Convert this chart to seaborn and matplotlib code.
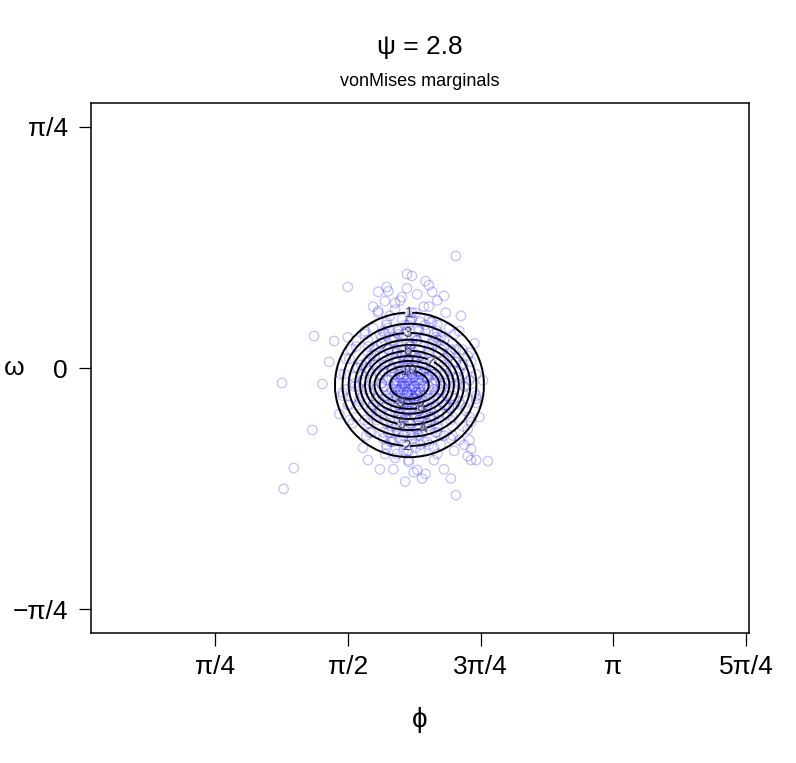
import numpy as np
import matplotlib
import matplotlib.pyplot as plt
import seaborn as sns

# Use 'Agg' backend for headless image generation
matplotlib.use('Agg')

PSI = 2.8

# contour levels and the half-widths / half-heights (radians) of each level
levels = [1, 2, 3, 4, 5, 6, 7, 8, 9, 10]
half_width = [0.440, 0.396, 0.360, 0.322, 0.292, 0.263, 0.236, 0.207, 0.177, 0.115]
half_height = [0.235, 0.199, 0.169, 0.147, 0.130, 0.111, 0.094, 0.078, 0.062, 0.046]
center_phi = 1.935
center_omega = -0.055

# sample points (phi, omega): scattered ones read one by one
phi_outer = [
    2.21, 1.92, 2.03, 1.57, 1.80, 1.75, 2.07, 2.14, 1.89, 1.79,
    1.85, 1.75, 1.37, 1.49, 1.46, 1.18, 1.42, 1.36, 1.25, 1.19,
    2.21, 1.98, 2.03, 2.40, 2.33, 2.28, 2.30, 2.29, 2.23, 2.33,
    2.30, 1.93, 1.85,
]
omega_outer = [
    0.365, 0.306, 0.283, 0.264, 0.264, 0.248, 0.248, 0.235, 0.231, 0.218,
    0.212, 0.186, 0.104, 0.088, 0.020, -0.049, -0.052, -0.202, -0.326, -0.394,
    -0.414, -0.332, -0.345, -0.303, -0.300, -0.287, -0.264, -0.235, -0.235, -0.114,
    -0.176, -0.306, -0.293,
]

# dense cloud under the contours (estimated)
phi_core = [
    1.93, 1.88, 1.97, 2.01, 1.85, 1.92, 1.99, 1.90, 2.05, 1.83,
    1.95, 1.87, 2.03, 1.79, 2.08, 1.94, 1.91, 2.00, 1.86, 1.96,
    2.10, 1.81, 1.89, 2.04, 1.98, 1.76, 2.12, 1.92, 1.84, 2.06,
    1.93, 1.99, 1.78, 2.15, 1.88, 2.02, 1.82, 1.95, 2.09, 1.90,
    1.97, 1.86, 2.01, 1.80, 2.07, 1.94, 1.89, 2.13, 1.75, 2.00,
    1.70, 1.72, 1.68, 2.18, 2.20, 2.22, 1.73, 2.17, 1.92, 1.85,
    2.02, 1.96, 1.87, 2.06, 1.80, 2.11, 1.77, 2.14, 1.66, 2.25,
    1.99, 1.83, 2.04, 1.90, 1.74, 2.16, 1.81, 2.08, 1.64, 2.27,
    1.94, 1.89, 2.00, 1.71, 2.19, 1.78, 2.10, 1.63, 2.24, 1.97,
    1.86, 2.12, 1.69, 2.21, 1.82, 2.05, 1.93, 2.29, 1.61, 2.02,
    1.58, 1.56, 2.30, 2.33, 1.60, 2.28, 1.67, 2.23, 1.75, 2.15,
    1.88, 1.98, 1.79, 2.08, 1.96, 1.84, 1.66, 2.20, 2.35, 1.54,
    1.92, 2.10, 1.72, 2.26, 1.62, 2.32, 2.01, 1.91, 1.76, 2.14,
    2.37, 1.52, 1.69, 2.24, 1.81, 2.05, 2.18, 2.30, 1.57, 1.95,
    1.91, 1.96, 2.03, 1.87, 1.93, 1.99, 1.84, 2.05, 1.90, 1.98,
    1.94, 1.88, 2.02, 1.92, 1.97, 1.86, 2.07, 1.95, 1.89, 2.00,
    2.11, 1.82, 1.93, 1.99, 1.78, 2.14, 1.85, 2.06, 1.96, 1.91,
    1.92, 1.95, 1.89, 2.00, 1.86, 1.97, 2.04, 1.83, 1.91, 1.99,
    1.94, 1.87, 2.02, 1.80, 2.09, 1.93, 1.96, 1.88, 2.06, 1.85,
    1.98, 1.90, 2.01, 1.84, 2.11, 1.95, 1.77, 2.13, 1.92, 2.03,
    1.89, 1.97, 1.82, 2.08, 1.94, 1.86, 2.05, 1.79, 2.16, 1.91,
    1.99, 1.74, 2.19, 1.87, 2.07, 1.81, 1.95, 2.12, 1.76, 2.01,
    1.90, 1.84, 2.10, 1.72, 2.17, 1.98, 1.93, 1.96, 1.88, 2.00,
    1.85, 2.04, 1.91, 1.97, 1.83, 2.08, 1.94, 1.89, 2.02, 1.80,
    2.14, 1.92, 1.99, 1.78, 2.15, 1.86, 2.06, 1.73, 2.20, 1.95,
    1.90, 2.03, 1.81, 2.12, 1.75, 2.18, 1.97, 1.87, 2.09, 1.70,
    2.23, 1.84, 2.05, 1.93, 1.68, 2.26, 1.79, 2.14, 1.92, 2.00,
    1.72, 1.80, 1.87, 1.95, 2.03, 2.10, 2.17, 1.76, 1.91, 2.06,
    1.62, 1.69, 1.77, 1.84, 1.90, 1.98, 2.05, 2.12, 2.19, 2.25,
    1.73, 1.94, 2.08, 1.58, 1.65, 1.71, 1.79, 1.86, 1.93, 2.00,
    2.07, 2.14, 2.21, 2.28, 1.83, 1.97, 2.11, 1.55, 1.61, 1.68,
    1.74, 1.81, 1.88, 1.95, 2.02, 2.09, 2.16, 2.23, 2.30, 1.85,
    1.99, 2.05, 1.56, 1.63, 1.70, 1.77, 1.84, 1.91, 1.98, 2.05,
    2.12, 2.19, 2.26, 2.32, 1.88, 1.95, 2.02, 1.57, 1.64, 1.71,
    1.78, 1.85, 1.92, 1.99, 2.06, 2.13, 2.20, 2.27, 1.89, 1.96,
    2.03, 1.62, 1.69, 1.76, 1.83, 1.90, 1.97, 2.04, 2.11, 2.18,
    2.25, 1.87, 2.00, 1.70, 1.78, 1.86, 1.94, 2.02, 2.10, 2.18,
    1.82, 1.98, 2.14, 1.80, 1.90, 2.00, 2.10, 1.85, 1.95, 2.05,
    1.90, 1.93, 1.96, 1.99, 1.87, 1.92, 1.95, 1.98, 2.01, 1.89,
    1.94, 1.97, 1.91, 2.00, 1.86,
    2.26, 2.25, 2.18, 2.11, 1.99, 1.87, 1.77, 1.69, 1.62, 1.61,
    1.63, 1.67, 1.78, 1.88, 1.99, 2.09, 2.19, 2.24, 2.33, 2.29,
    2.20, 2.07, 1.94, 1.80, 1.67, 1.59, 1.53, 1.54, 1.58, 1.68,
    1.80, 1.93, 2.08, 2.19, 2.29, 2.33, 2.18, 2.14, 2.05, 1.94,
    1.81, 1.73, 1.69, 1.72, 1.82, 1.94, 2.06, 2.15, 2.22, 2.12,
    1.97, 1.83, 1.70, 1.66, 1.74, 1.90, 2.04, 2.17, 2.21, 1.65,
]
omega_core = [
    -0.05, -0.02, -0.08, -0.04, -0.07, 0.01, -0.11, -0.10, -0.06, -0.03,
    -0.02, -0.12, 0.00, -0.06, -0.09, -0.14, 0.04, -0.01, 0.02, -0.06,
    -0.03, -0.10, -0.05, -0.12, 0.03, -0.02, -0.07, -0.08, 0.05, 0.02,
    -0.17, 0.06, -0.13, -0.05, -0.15, -0.16, 0.01, 0.08, -0.13, -0.03,
    -0.04, -0.09, -0.09, -0.04, -0.02, 0.00, 0.07, -0.11, -0.08, -0.19,
    -0.01, -0.12, -0.07, -0.01, -0.10, -0.05, 0.04, 0.04, 0.12, 0.10,
    0.10, -0.22, -0.21, -0.20, -0.18, -0.17, 0.08, 0.07, -0.04, -0.08,
    0.13, -0.24, -0.24, -0.25, -0.16, -0.15, 0.13, 0.11, -0.10, -0.13,
    0.15, 0.16, -0.27, -0.21, -0.19, 0.12, 0.14, 0.00, 0.01, 0.18,
    -0.28, -0.25, 0.07, 0.06, 0.17, 0.16, -0.30, -0.04, -0.06, 0.20,
    -0.12, 0.03, 0.02, -0.10, -0.18, -0.20, 0.12, 0.12, 0.18, 0.18,
    0.22, 0.24, -0.28, -0.30, -0.34, -0.33, -0.26, -0.27, -0.16, -0.08,
    0.26, 0.22, 0.20, -0.25, 0.09, 0.08, -0.36, -0.37, -0.33, -0.33,
    -0.04, -0.15, -0.30, 0.17, 0.25, 0.27, -0.36, -0.30, 0.10, 0.30,
    -0.06, -0.10, -0.03, -0.01, -0.12, -0.07, -0.05, -0.10, 0.02, -0.01,
    -0.09, -0.08, -0.06, -0.03, 0.00, -0.04, -0.05, -0.13, 0.00, -0.02,
    -0.08, -0.08, 0.03, -0.14, -0.01, -0.02, -0.13, -0.14, 0.05, -0.16,
    -0.04, -0.07, -0.06, -0.05, -0.10, -0.12, -0.08, -0.01, 0.00, -0.03,
    -0.11, -0.03, -0.11, -0.09, -0.04, 0.02, -0.15, -0.13, -0.01, 0.03,
    -0.09, -0.07, 0.01, -0.11, -0.10, -0.01, -0.05, -0.06, -0.14, -0.15,
    0.04, 0.04, -0.15, -0.16, -0.18, 0.06, 0.05, 0.01, -0.09, -0.19,
    -0.17, -0.10, -0.03, -0.17, 0.08, 0.06, 0.10, 0.02, -0.14, -0.21,
    -0.22, 0.09, -0.19, -0.03, -0.13, 0.09, -0.06, -0.03, -0.09, -0.13,
    -0.05, -0.03, -0.10, -0.08, -0.07, -0.07, 0.05, -0.16, 0.03, -0.12,
    -0.12, 0.08, -0.20, 0.04, 0.00, -0.19, -0.17, -0.07, -0.07, -0.23,
    0.11, 0.12, -0.21, -0.22, 0.07, 0.05, -0.26, 0.13, 0.10, -0.14,
    -0.11, -0.24, -0.25, 0.14, 0.02, -0.02, 0.11, 0.09, -0.27, 0.15,
    0.13, 0.15, 0.12, 0.16, 0.14, 0.12, 0.13, 0.11, 0.14, 0.15,
    0.07, 0.09, 0.08, 0.10, 0.06, 0.09, 0.07, 0.10, 0.08, 0.06,
    0.06, 0.08, 0.09, 0.03, 0.01, 0.04, 0.02, 0.05, 0.03, 0.04,
    0.01, 0.03, 0.02, 0.04, 0.00, 0.02, 0.05, -0.02, -0.03, 0.00,
    -0.01, -0.04, -0.02, -0.03, -0.01, -0.02, -0.04, -0.01, -0.03, -0.02,
    -0.04, -0.03, -0.07, -0.06, -0.08, -0.05, -0.09, -0.06, -0.08, -0.07,
    -0.05, -0.09, -0.06, -0.08, -0.07, -0.09, -0.06, -0.12, -0.11, -0.13,
    -0.10, -0.14, -0.12, -0.11, -0.13, -0.10, -0.12, -0.14, -0.11, -0.10,
    -0.14, -0.16, -0.18, -0.15, -0.19, -0.17, -0.16, -0.18, -0.15, -0.17,
    -0.19, -0.15, -0.16, -0.21, -0.23, -0.20, -0.22, -0.24, -0.21, -0.23,
    -0.24, -0.20, -0.22, -0.26, -0.27, -0.25, -0.28, 0.19, 0.18, 0.20,
    -0.05, -0.04, -0.06, -0.05, -0.07, -0.08, -0.02, -0.09, -0.04, -0.03,
    -0.07, -0.10, -0.11, -0.08, -0.06,
    -0.06, 0.01, 0.06, 0.09, 0.12, 0.11, 0.10, 0.05, 0.00, -0.05,
    -0.12, -0.17, -0.21, -0.23, -0.22, -0.21, -0.16, -0.12, -0.02, 0.05,
    0.11, 0.15, 0.16, 0.14, 0.11, 0.06, -0.02, -0.09, -0.17, -0.22,
    -0.25, -0.27, -0.26, -0.22, -0.16, -0.09, -0.05, 0.01, 0.06, 0.07,
    0.06, 0.01, -0.06, -0.12, -0.17, -0.18, -0.16, -0.12, -0.03, 0.06,
    0.10, 0.09, 0.03, -0.09, -0.17, -0.21, -0.19, -0.13, 0.02, -0.02,
]

phi = phi_outer + phi_core
omega = omega_outer + omega_core

x_ticks = [np.pi / 4, np.pi / 2, 3 * np.pi / 4, np.pi, 5 * np.pi / 4]
x_tick_labels = ["π/4", "π/2", "3π/4", "π", "5π/4"]
y_ticks = [-np.pi / 4, 0, np.pi / 4]
y_tick_labels = ["−π/4", "0", "π/4"]

# where R put the contour labels
label_spots = [(1.931, 0.179), (1.919, -0.257), (1.925, 0.117), (2.020, -0.208),
               (1.884, -0.192), (1.925, 0.059), (2.061, 0.023), (2.002, -0.137),
               (1.878, -0.114), (1.931, -0.029)]


def density_surface(gx, gy):
    """Surface whose level sets are the ellipses measured for each level."""
    r = np.array([np.sqrt(((gx - center_phi) / a) ** 2 + ((gy - center_omega) / b) ** 2)
                  for a, b in zip(half_width, half_height)])
    z = 1.0 / r[0]
    for k in range(len(levels) - 1):
        band = (r[k] <= 1) & (r[k + 1] > 1)
        t = (1 - r[k][band]) / (r[k + 1][band] - r[k][band])
        z[band] = levels[k] + t * (levels[k + 1] - levels[k])
    core = r[-1] <= 1
    z[core] = levels[-1] + (1 - r[-1][core])
    return z


sns.set_theme(style="white")
plt.rcParams['font.family'] = ['Liberation Sans', 'DejaVu Sans']
plt.rcParams['axes.unicode_minus'] = True
for key in ['text.color', 'axes.labelcolor', 'xtick.color', 'ytick.color']:
    plt.rcParams[key] = 'black'

fig = plt.figure(figsize=(7.96, 7.63), dpi=100)
ax = fig.add_axes([91 / 796, 1 - 633 / 763, (749 - 91) / 796, (633 - 103) / 763])

sns.scatterplot(x=phi, y=omega, ax=ax, marker='o', s=46, facecolor='none',
                edgecolor=(0.1, 0.1, 1.0, 0.26), linewidth=0.95, legend=False)

gx, gy = np.meshgrid(np.linspace(1.2, 2.7, 500), np.linspace(-0.5, 0.4, 500))
gz = density_surface(gx, gy)
# one contour set per level so each label sits on its own ring
for lev, spot in zip(levels, label_spots):
    cs = ax.contour(gx, gy, gz, levels=[lev], colors='black', linewidths=1.4)
    ax.clabel(cs, fmt='%d', fontsize=11, colors='#444444', inline=True,
              inline_spacing=4, manual=[spot])

ax.set_xlim(0.050, 3.945)
ax.set_ylim(-0.8635, 0.8635)
ax.set_xticks(x_ticks)
ax.set_xticklabels(x_tick_labels)
ax.set_yticks(y_ticks)
ax.set_yticklabels(y_tick_labels)
ax.tick_params(axis='x', length=9.5, width=0.9, pad=6, labelsize=19, bottom=True, color='black')
ax.tick_params(axis='y', length=8.5, width=0.9, pad=8, labelsize=19, left=True, color='black')
for s in ax.spines.values():
    s.set_color('black')
    s.set_linewidth(1.1)

ax.set_xlabel("ϕ", fontsize=20)
ax.xaxis.set_label_coords(0.5, -0.164)
ax.xaxis.label.set_va('center')
ax.set_ylabel("ω", fontsize=19, rotation=0)
ax.yaxis.set_label_coords(-0.117, 0.5)
ax.yaxis.label.set_va('center')
ax.yaxis.label.set_ha('center')

fig.text(420 / 796, 1 - 47 / 763, f"ψ = {PSI}", ha='center', va='center', fontsize=19)
fig.text(420 / 796, 1 - 82 / 763, "vonMises marginals", ha='center', va='center', fontsize=13)

fig.savefig("out.png", dpi=100)
plt.close(fig)
